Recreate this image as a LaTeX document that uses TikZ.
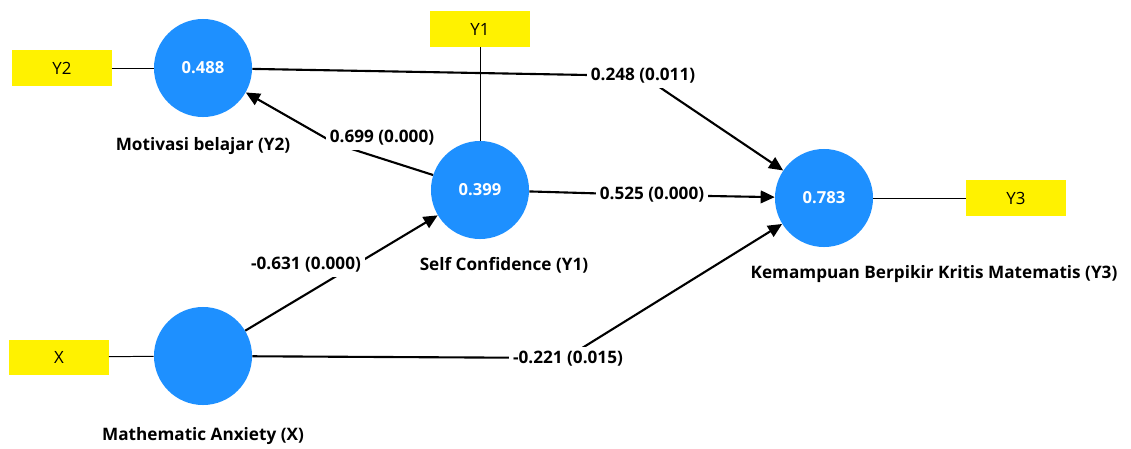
\documentclass[tikz,border=0pt]{standalone}
\usepackage{fontspec}
\setmainfont{Open Sans}
\usetikzlibrary{arrows.meta}
\definecolor{lvblue}{RGB}{30,144,255}
\definecolor{mvyellow}{RGB}{255,242,0}
\begin{document}
\begin{tikzpicture}[x=0.025cm,y=-0.025cm,
  lv/.style={circle,fill=lvblue,minimum size=2.45cm,inner sep=0pt,
    text=white,font=\fontsize{11.8}{13}\selectfont\bfseries},
  mv/.style={rectangle,fill=mvyellow,minimum width=2.475cm,minimum height=0.875cm,
    inner sep=0pt,font=\fontsize{12}{13}\selectfont},
  lvname/.style={font=\fontsize{12.2}{14}\selectfont\bfseries},
  coef/.style={fill=white,inner sep=3pt,font=\fontsize{12.2}{14}\selectfont\bfseries},
  path/.style={line width=1.5pt,-{Triangle[length=10pt,width=9pt]}},
  load/.style={line width=0.7pt}]
\useasboundingbox (0,0) rectangle (1131,448);
% latent variables
\node[lv] (y2) at (203,68) {0.488};
\node[lv] (y1) at (480,190) {0.399};
\node[lv] (y3) at (824,198) {0.783};
\node[lv] (x) at (203,356) {};
\node[lvname] (ny2) at (203,146) {Motivasi belajar (Y2)};
\node[lvname] (ny1) at (504,265) {Self Confidence (Y1)};
\node[lvname] (ny3) at (934,274) {Kemampuan Berpikir Kritis Matematis (Y3)};
\node[lvname] (nx) at (203,436) {Mathematic Anxiety (X)};
% indicators
\node[mv] (iy2) at (62,68) {Y2};
\node[mv] (iy1) at (480,29) {Y1};
\node[mv] (iy3) at (1016,198) {Y3};
\node[mv] (ix) at (59,357) {X};
\draw[load] (iy2) -- (y2);
\draw[load] (iy1) -- (y1);
\draw[load] (y3) -- (iy3);
\draw[load] (ix) -- (x);
% paths
\coordinate (b1) at (643,76);
\coordinate (b2) at (652,195);
\coordinate (b3) at (336,144);
\coordinate (b5) at (566,358);
\draw[path] (y2) -- (b1) -- (y3);
\draw[path] (y1) -- (b2) -- (y3);
\draw[path] (y1) -- (b3) -- (y2);
\draw[path] (x) -- (y1);
\draw[path] (x) -- (b5) -- (y3);
\node[coef] (c1) at (b1) {0.248 (0.011)};
\node[coef] (c2) at (b2) {0.525 (0.000)};
\node[coef] (c3) at (382,138) {0.699 (0.000)};
\node[coef] (c4) at (306,265) {-0.631 (0.000)};
\node[coef] (c5) at (568,359) {-0.221 (0.015)};
\end{tikzpicture}
\end{document}
